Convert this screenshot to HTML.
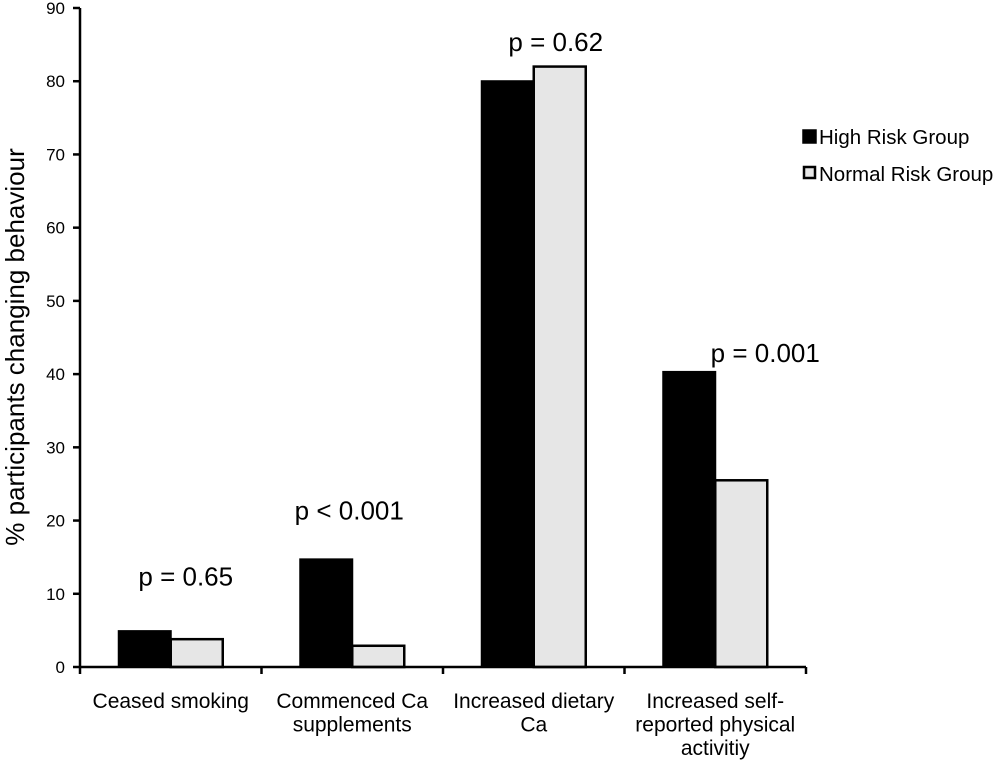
<!DOCTYPE html>
<html><head><meta charset="utf-8"><style>
html,body{margin:0;padding:0;background:#fff;}
svg{display:block;font-family:"Liberation Sans",Arial,sans-serif;}
</style></head><body>
<svg id="chart" width="1000" height="761"></svg>
<script>
const categories = [["Ceased smoking"],["Commenced Ca","supplements"],["Increased dietary","Ca"],["Increased self-","reported physical","activitiy"]];
const highRisk = [4.9, 14.7, 80.0, 40.3];
const normalRisk = [3.8, 2.9, 82.0, 25.5];
const pLabels = ["p = 0.65","p < 0.001","p = 0.62","p = 0.001"];
const pLabelValues = [12.5, 21.5, 85.5, 43.0];
const yTicks = [0,10,20,30,40,50,60,70,80,90];

const NS="http://www.w3.org/2000/svg";
const svg=document.getElementById('chart');
const x0=80,x1=806,yBase=667,yTop=8,yMax=90;
const bandW=(x1-x0)/categories.length;
const barW=52;
const pOffsets=[15,-3,22,50];
function yScale(v){return yBase-(v/yMax)*(yBase-yTop);}
function xCenter(i){return x0+bandW*(i+0.5);}
function mk(tag,attrs,parent){const e=document.createElementNS(NS,tag);for(const k in attrs)e.setAttribute(k,attrs[k]);(parent||svg).appendChild(e);return e;}

const bars=mk('g',{});


categories.forEach((c,i)=>{
  const cx=xCenter(i);
  const b1=mk('rect',{x:cx-barW,y:yScale(highRisk[i]),width:barW,height:yBase-yScale(highRisk[i]),fill:'#000',stroke:'#000','stroke-width':2},bars);
  
  
  const b2=mk('rect',{x:cx,y:yScale(normalRisk[i]),width:barW,height:yBase-yScale(normalRisk[i]),fill:'#e6e6e6',stroke:'#000','stroke-width':2.5},bars);
  
  
  const p=mk('text',{x:cx+pOffsets[i],y:yScale(pLabelValues[i])+10,'font-size':26,'text-anchor':'middle',fill:'#000'});
  p.textContent=pLabels[i];
  
  
  const t=mk('text',{x:cx,y:708,'font-size':21,'text-anchor':'middle',fill:'#000'});
  
  
  c.forEach((line,j)=>{const ts=mk('tspan',{x:cx,dy:j?23.5:0},t);ts.textContent=line;});
});

const ax=mk('g',{stroke:'#000','stroke-width':2.5});


mk('line',{x1:x0,y1:yTop,x2:x0,y2:yBase},ax);
mk('line',{x1:x0,y1:yBase,x2:x1,y2:yBase},ax);
for(let i=0;i<=categories.length;i++){const x=x0+bandW*i;mk('line',{x1:x,y1:yBase,x2:x,y2:yBase+7},ax);}
yTicks.forEach(v=>{
  const y=yScale(v);
  mk('line',{x1:x0-7,y1:y,x2:x0,y2:y},ax);
  const t=mk('text',{x:65,y:y+6,'font-size':17,'text-anchor':'end',fill:'#000'});
  t.textContent=v;
  
  
});
const yt=mk('text',{x:0,y:0,'font-size':26,'text-anchor':'middle',fill:'#000',transform:'translate(24,347) rotate(-90)'});
yt.textContent='% participants changing behaviour';



const lg=mk('g',{});


mk('rect',{x:803,y:130,width:13,height:13,fill:'#000',stroke:'#000','stroke-width':1.5},lg);
const l1=mk('text',{x:819,y:144,'font-size':20.5,fill:'#000'},lg);l1.textContent='High Risk Group';


mk('rect',{x:804,y:167,width:11,height:11,fill:'#e6e6e6',stroke:'#000','stroke-width':2.5},lg);
const l2=mk('text',{x:819,y:181,'font-size':20.5,fill:'#000'},lg);l2.textContent='Normal Risk Group';


</script>
</body></html>
